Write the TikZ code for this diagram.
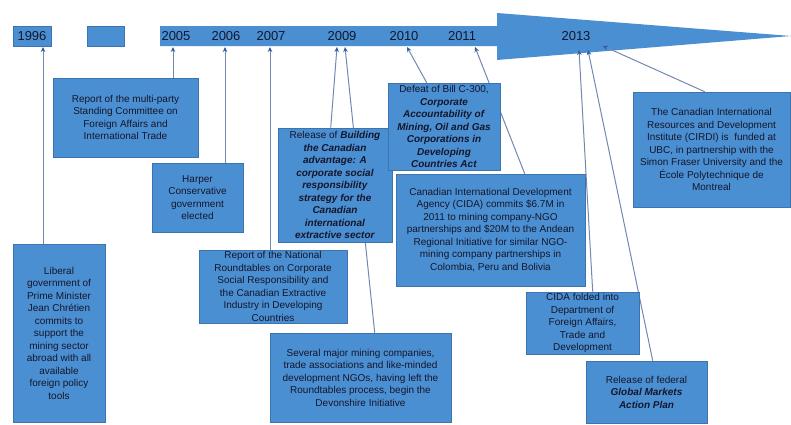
\documentclass[tikz,border=0pt]{standalone}
\usepackage{fontspec}
\setmainfont{Liberation Sans}
\usetikzlibrary{arrows.meta}
\definecolor{boxfill}{HTML}{4B8FD3}
\definecolor{boxline}{HTML}{3D73AE}
\definecolor{txt}{HTML}{141629}
\definecolor{conn}{HTML}{7288B2}
\definecolor{tipc}{HTML}{2F5C9E}
\pgfdeclarelayer{bg}
\pgfdeclarelayer{mid}
\pgfsetlayers{bg,mid,main}
\tikzset{
  box/.style={rectangle, fill=boxfill, draw=boxline, line width=0.6pt, inner sep=0pt,
    align=center, text=txt, font=\fontsize{10}{12.5}\selectfont},
  yearlbl/.style={text=txt, font=\fontsize{13}{15}\selectfont, inner sep=0pt},
  conline/.style={draw=conn, line width=1pt, -{Stealth[length=5pt,width=4.5pt,color=tipc]}},
}
\newcommand{\bi}[1]{\textbf{\textit{#1}}}
\begin{document}
\begin{tikzpicture}[x=1pt,y=-1pt]
\useasboundingbox (0,0) rectangle (791,424);

% timeline
\begin{pgfonlayer}{bg}
\fill[boxfill, draw=boxline, line width=0.4pt] (13,26) rectangle (51,46);
\fill[boxfill, draw=boxline, line width=0.4pt] (87,26) rectangle (124,46);
\fill[boxfill] (160,26) -- (497,26) -- (497,13) -- (791,36) -- (497,60) -- (497,46) -- (160,46) -- cycle;
\end{pgfonlayer}

\node[yearlbl] (y1996) at (32,36) {1996};
\node[yearlbl] (y2005) at (176,36) {2005};
\node[yearlbl] (y2006) at (226,36) {2006};
\node[yearlbl] (y2007) at (271,36) {2007};
\node[yearlbl] (y2009) at (342,36) {2009};
\node[yearlbl] (y2010) at (404,36) {2010};
\node[yearlbl] (y2011) at (462,36) {2011};
\node[yearlbl] (y2013) at (576,36) {2013};

\coordinate (t1996) at (43,47);
\coordinate (t2005) at (173,47);
\coordinate (t2006) at (225,47);
\coordinate (t2007) at (270,47);
\coordinate (t2009a) at (337,47);
\coordinate (t2009b) at (345,47);
\coordinate (t2010) at (407,47);
\coordinate (t2011) at (475,47);
\coordinate (t2013a) at (579,50);
\coordinate (t2013b) at (588,50);
\coordinate (t2013c) at (603,46);

% boxes
\node[box, minimum width=145, minimum height=79] (rep) at (125.5,117.5)
  {Report of the multi-party\\Standing Committee on\\Foreign Affairs and\\International Trade};
\node[box, minimum width=91, minimum height=69] (harper) at (197.5,197.5)
  {Harper\\Conservative\\government\\elected};
\node[box, minimum width=114, minimum height=114] (release) at (335,185)
  {Release of \bi{Building}\\\bi{the Canadian}\\\bi{advantage: A}\\\bi{corporate social}\\\bi{responsibility}\\\bi{strategy for the}\\\bi{Canadian}\\\bi{international}\\\bi{extractive sector}};
\node[box, minimum width=92, minimum height=178] (liberal) at (59,333)
  {Liberal\\government of\\Prime Minister\\Jean Chrétien\\commits to\\support the\\mining sector\\abroad with all\\available\\foreign policy\\tools};
\node[box, minimum width=148, minimum height=73] (natl) at (273,286.5)
  {Report of the National\\Roundtables on Corporate\\Social Responsibility and\\the Canadian Extractive\\Industry in Developing\\Countries};
\node[box, minimum width=181, minimum height=89] (several) at (360.5,377.5)
  {Several major mining companies,\\trade associations and like-minded\\development NGOs, having left the\\Roundtables process, begin the\\Devonshire Initiative};
\node[box, minimum width=112, minimum height=87] (defeat) at (444,126.5)
  {Defeat of Bill C-300,\\\bi{Corporate}\\\bi{Accountability of}\\\bi{Mining, Oil and Gas}\\\bi{Corporations in}\\\bi{Developing}\\\bi{Countries Act}};
\node[box, minimum width=189, minimum height=112] (cidac) at (490.5,230)
  {Canadian International Development\\Agency (CIDA) commits \$6.7M in\\2011 to mining company-NGO\\partnerships and \$20M to the Andean\\Regional Initiative for similar NGO-\\mining company partnerships in\\Colombia, Peru and Bolivia};
\node[box, minimum width=113, minimum height=62] (cidaf) at (582.5,323)
  {CIDA folded into\\Department of\\Foreign Affairs,\\Trade and\\Development};
\node[box, minimum width=121, minimum height=62] (gmap) at (646.5,392)
  {Release of federal\\\bi{Global Markets}\\\bi{Action Plan}};
\node[box, minimum width=157, minimum height=115] (cirdi) at (711.5,149.5)
  {The Canadian International\\Resources and Development\\Institute (CIRDI) is\ \ funded at\\UBC, in partnership with the\\Simon Fraser University and the\\École Polytechnique de\\Montreal};

% connectors
\begin{pgfonlayer}{mid}
\draw[conline] (liberal.north -| t1996) -- (t1996);
\draw[conline] (rep.north -| t2005) -- (t2005);
\draw[conline] (harper.north -| t2006) -- (t2006);
\draw[conline] (natl.north -| t2007) -- (t2007);
\draw[conline] ([xshift=53pt]release.north west) -- (t2009a);
\draw[conline] ([xshift=105pt]several.north west) -- (t2009b);
\draw[conline] ([xshift=39pt]defeat.north west) -- (t2010);
\draw[conline] ([xshift=129pt]cidac.north west) -- (t2011);
\draw[conline] ([xshift=67pt]cidaf.north west) -- (t2013a);
\draw[conline] ([xshift=67pt]gmap.north west) -- (t2013b);
\draw[conline] ([xshift=72pt]cirdi.north west) -- (t2013c);
\end{pgfonlayer}
\end{tikzpicture}
\end{document}
